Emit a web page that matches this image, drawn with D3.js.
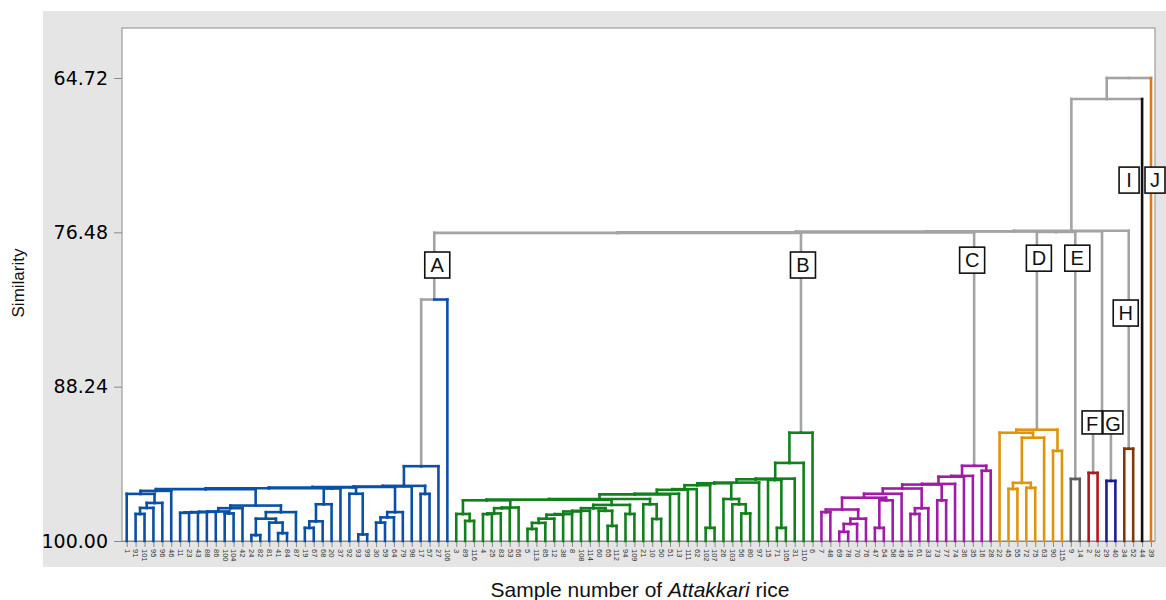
<!DOCTYPE html>
<html>
<head>
<meta charset="utf-8">
<script src="https://cdn.jsdelivr.net/npm/d3@7"></script>
<style>
  body { margin: 0; background: #fff; }
  svg { display: block; }
</style>
</head>
<body>
<svg id="chart" width="1166" height="600"></svg>
<script>
// Each internal node is [similarity, left, right]; a plain number is a sample (leaf).
const clusterA = [81.6,
  [94.3,
    [95.8,
      [95.85,
        [95.88,
          [95.92,
            [95.98,
              [96.05,
                [96.18, [96.41, 1, [97.1, [97.48, [97.94, 91, 101], 95], 96]], 46],
                [97.3,
                  [97.5, [97.75, [97.78, [97.8, [97.82, [97.85, 11, 23], 43], 88], 86], [97.9, 100, 104]], 42],
                  [97.8, [98.3, [99.55, 24, 82], [98.6, 81, [99.4, 41, 84]]], 87]]],
              [96.0, [97.2, [98.5, [99.0, 19, 67], 68], 20], 37]],
            [96.4, 92, [99.5, 93, 99]]],
          [97.8, [98.2, [98.6, 30, 59], 64], 79]],
        98],
      [96.41, 17, 57]],
    27],
  106];

const clusterB = [91.75,
  [94.05,
    [95.25,
      [95.3,
        [95.55,
          [95.6,
            [95.75,
              [96.05, [96.1, [96.4, [96.45,
                [96.8,
                  [96.85,
                    [96.9, [97.94, 3, [98.47, 89, 116]], [97.45, [97.5, [97.9, [97.95, 4, 25], 83], 53], 66]],
                    [97.25,
                      [97.5,
                        [97.7, [97.75, [97.95, [98.0, [98.3, [98.62, [99.08, 5, 113], 85], 12], 38], 8], 108], 114],
                        [97.7, 60, [98.85, 65, 112]]],
                      [97.94, 94, 109]]],
                  [97.2, 21, [98.32, 10, 50]]],
                51], 13], 111], 62],
              [99.0, 102, 107]],
            [96.8, 26, [97.2, 103, [97.9, 56, 80]]]],
          97],
        [95.35, 15, [99.0, 71, 105]]],
      31],
    110],
  6];

const clusterC = [94.27,
  [95.04,
    [95.1,
      [95.65,
        [95.7,
          [96.0,
            [96.4,
              [96.7,
                [97.6, [97.8, 7, 48], [98.3, [98.7, [99.3, 69, 78], 70], 76]],
                [96.9, [99.0, 47, 54], 58]],
              49],
            [97.5, [97.94, 18, 61], 33]],
          [96.9, 73, 77]],
        74],
      36],
    35],
  [94.65, 16, 28]];

const clusterD = [91.52,
  [91.75, 22, [92.13, [95.57, [96.03, 45, 55], [95.95, 72, 75]], 63]],
  [93.13, 90, 115]];
const clusterE = [95.27, 9, 14];
const clusterF = [94.81, 2, 32];
const clusterG = [95.42, 29, 40];
const clusterH = [92.97, 34, 52];
const clusterI = 44;
const clusterJ = 39;

const clusterNames = ['A', 'B', 'C', 'D', 'E', 'F', 'G', 'H', 'I', 'J'];
const clusterTrees = [clusterA, clusterB, clusterC, clusterD, clusterE, clusterF, clusterG, clusterH, clusterI, clusterJ];
const clusterColors = ['#0a50a6', '#12801c', '#a01ca8', '#e0940c', '#5e5e5e', '#b5161c', '#1c1c9a', '#7a3a0e', '#111111', '#db7a16'];

// joins between the clusters
const topTree = [64.72,
  [66.32,
    [76.36,
      [76.40,
        [76.42, [76.48, [76.52, 'A', 'B'], 'C'], [76.45, 'D', 'E']],
        [91.2, 'F', 'G']],
      'H'],
    'I'],
  'J'];

const yTicks = [64.72, 76.48, 88.24, 100.00];

// where the letter boxes sit (similarity level) and their shift from the cluster stem
const boxSim = [78.97, 78.97, 78.6, 78.45, 78.45, 91.08, 91.08, 82.63, 72.5, 72.5];
const boxShift = [3, 2, -2, 2, 2, -1, 2, -3, -13, 4];

const linkGray = '#a3a3a3';
const colorCut = 85;

const svg = d3.select('#chart');
const plot = { left: 122, top: 28, right: 1155, bottom: 541 };

svg.append('rect').attr('x', 43).attr('y', 11).attr('width', 1123).attr('height', 556).attr('fill', '#e5e5e5');
svg.append('rect')
  .attr('x', plot.left).attr('y', plot.top)
  .attr('width', plot.right - plot.left).attr('height', plot.bottom - plot.top)
  .attr('fill', '#fff').attr('stroke', '#9c9c9c').attr('stroke-width', 1.2);

// build the tree
function toNode(d, group) {
  if (typeof d === 'string') {
    const gi = clusterNames.indexOf(d);
    const n = toNode(clusterTrees[gi], gi);
    n.clusterRoot = gi;
    return n;
  }
  if (typeof d === 'number') return { label: d, sim: 100, group: group };
  return { sim: d[0], group: group, children: [toNode(d[1], group), toNode(d[2], group)] };
}

const root = d3.hierarchy(toNode(topTree, null));
const leaves = root.leaves();

const x = d3.scalePoint()
  .domain(leaves.map(l => l.data.label))
  .range([126.7, 1151]);

const y = d3.scaleLinear()
  .domain([64.72, 100])
  .range([78, plot.bottom]);

root.eachAfter(n => {
  n.px = n.children ? d3.mean(n.children, c => c.px) : x(n.data.label);
});

// axes
const yAxis = svg.append('g')
  .attr('transform', `translate(${plot.left},0)`)
  .call(d3.axisLeft(y).tickValues(yTicks).tickFormat(d3.format('.2f')).tickSize(8).tickPadding(6));
yAxis.select('.domain').remove();
yAxis.selectAll('line').attr('stroke', '#8a8a8a');
yAxis.selectAll('text')
  .style('font-family', 'DejaVu Sans, sans-serif')
  .style('font-size', '19px')
  .attr('fill', '#000');

const xAxis = svg.append('g')
  .attr('transform', `translate(0,${plot.bottom})`)
  .call(d3.axisBottom(x).tickSize(6).tickPadding(2));
xAxis.select('.domain').attr('stroke', '#8a8a8a').attr('d', `M${plot.left},0.5H${plot.right}`);
xAxis.selectAll('line').attr('stroke', '#8a8a8a');
xAxis.selectAll('text')
  .style('font-family', 'Liberation Sans, Arial, sans-serif')
  .style('font-size', '7.5px')
  .attr('fill', '#333')
  .attr('text-anchor', 'start')
  .attr('transform', 'rotate(90)')
  .attr('x', 8)
  .attr('y', 0)
  .attr('dy', '0.35em');

// links: vertical part from the child, horizontal part at the parent
function parentColored(n) {
  const p = n.parent.data;
  return p.group != null && p.sim >= colorCut;
}
function vColor(n) {
  if (!n.children || parentColored(n)) return clusterColors[n.data.group];
  return linkGray;
}
function hColor(n) {
  return n.parent.data.group != null ? vColor(n) : linkGray;
}

const links = root.descendants().filter(n => n.parent);
const segs = [];
links.forEach(n => {
  segs.push({ d: `M${n.px},${y(n.data.sim)}V${y(n.parent.data.sim)}`, c: vColor(n) });
  segs.push({ d: `M${n.px},${y(n.parent.data.sim)}H${n.parent.px}`, c: hColor(n) });
});
segs.sort((a, b) => (a.c === linkGray ? 0 : 1) - (b.c === linkGray ? 0 : 1));

svg.append('g')
  .selectAll('path')
  .data(segs)
  .join('path')
  .attr('d', s => s.d)
  .attr('fill', 'none')
  .attr('stroke', s => s.c)
  .attr('stroke-width', 2.6)
  .attr('stroke-linecap', 'square');

// letter boxes
const boxes = root.descendants()
  .filter(n => n.data.clusterRoot != null)
  .map(n => ({ i: n.data.clusterRoot, px: n.px }));

const boxG = svg.append('g')
  .selectAll('g')
  .data(boxes)
  .join('g')
  .attr('transform', d => `translate(${d.px + boxShift[d.i]},${y(boxSim[d.i])})`);

boxG.append('rect')
  .attr('x', d => 'FGIJ'.includes(clusterNames[d.i]) ? -10 : -12.5)
  .attr('y', -13)
  .attr('width', d => 'FGIJ'.includes(clusterNames[d.i]) ? 20 : 25)
  .attr('height', d => 'FG'.includes(clusterNames[d.i]) ? 23 : 26)
  .attr('fill', '#fff')
  .attr('stroke', '#111')
  .attr('stroke-width', 1.6);

boxG.append('text')
  .attr('text-anchor', 'middle')
  .attr('dy', '0.36em')
  .style('font-family', 'Liberation Sans, Arial, sans-serif')
  .style('font-size', '20px')
  .attr('fill', '#111')
  .text(d => clusterNames[d.i]);

// titles
svg.append('text')
  .attr('transform', 'translate(18,283) rotate(-90)')
  .attr('text-anchor', 'middle')
  .attr('dy', '0.35em')
  .style('font-family', 'Liberation Sans, Arial, sans-serif')
  .style('font-size', '17px')
  .attr('fill', '#111')
  .text('Similarity');

const xt = svg.append('text')
  .attr('x', 640)
  .attr('y', 590)
  .attr('text-anchor', 'middle')
  .attr('dy', '0.35em')
  .style('font-family', 'Liberation Sans, Arial, sans-serif')
  .style('font-size', '21px')
  .attr('fill', '#111');
xt.append('tspan').text('Sample number of ');
xt.append('tspan').style('font-style', 'italic').text('Attakkari');
xt.append('tspan').text(' rice');
</script>
</body>
</html>
